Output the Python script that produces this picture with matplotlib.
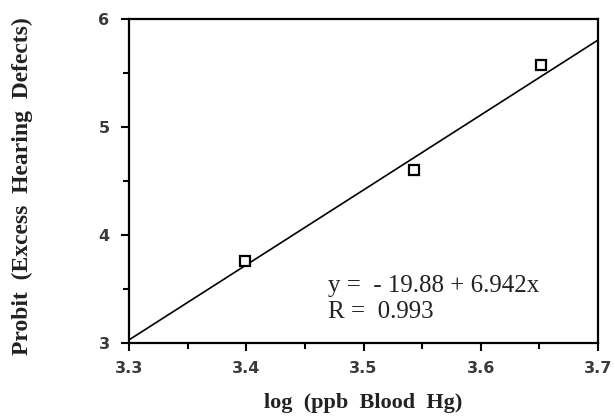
import matplotlib
matplotlib.use("Agg")
import matplotlib.pyplot as plt
import numpy as np
from matplotlib.ticker import MultipleLocator

# Measured data: log blood mercury vs probit of excess hearing defects
log_hg = [3.399, 3.543, 3.651]
probit = [3.76, 4.60, 5.57]

# Regression fit reported on the chart
intercept = -19.88
slope = 6.942
r_value = 0.993

x_ticks = [3.3, 3.4, 3.5, 3.6, 3.7]
y_ticks = [3, 4, 5, 6]

fig = plt.figure(figsize=(6.15, 4.17), dpi=100)
ax = fig.add_axes([0.2098, 0.1775, 0.7626, 0.7769])

xs = np.array([x_ticks[0], x_ticks[-1]])
ax.plot(xs, intercept + slope * xs, color="black", lw=1.2, zorder=2)
ax.plot(log_hg, probit, linestyle="none", marker="s", markersize=6.5,
        markerfacecolor="white", markeredgecolor="black", markeredgewidth=1.6, zorder=3)

ax.set_xlim(x_ticks[0], x_ticks[-1])
ax.set_ylim(y_ticks[0], y_ticks[-1])
ax.set_xticks(x_ticks)
ax.set_yticks(y_ticks)
ax.xaxis.set_minor_locator(MultipleLocator(0.05))
ax.yaxis.set_minor_locator(MultipleLocator(0.5))
ax.set_xticklabels([f"{v:.1f}" for v in x_ticks])
ax.set_yticklabels([str(v) for v in y_ticks])

for s in ax.spines.values():
    s.set_linewidth(1.6)
ax.tick_params(which="major", direction="out", length=6, width=1.5,
               labelsize=11.5, colors="black", labelcolor="#3a3a3a")
ax.tick_params(axis="x", which="major", pad=7)
ax.tick_params(axis="y", which="major", pad=8)
ax.tick_params(which="minor", direction="out", length=4, width=1.5)
for lbl in ax.get_xticklabels() + ax.get_yticklabels():
    lbl.set_fontfamily("DejaVu Sans")
    lbl.set_fontweight("bold")

ax.set_xlabel("log  (ppb  Blood  Hg)", fontfamily="Liberation Serif",
              fontweight="bold", fontsize=16, color="#222222")
ax.xaxis.set_label_coords(0.5, -0.155)
ax.set_ylabel("Probit  (Excess  Hearing  Defects)", fontfamily="Liberation Serif",
              fontweight="bold", fontsize=17, color="#222222")
ax.yaxis.set_label_coords(-0.205, 0.485)

eq_style = dict(fontfamily="Liberation Serif", fontsize=18, ha="left",
                va="baseline", color="#222222")
ax.text(3.4697, 3.472, f"y =  - {abs(intercept):.2f} + {slope:.3f}x", **eq_style)
ax.text(3.4697, 3.231, f"R =  {r_value:.3f}", **eq_style)

fig.savefig("out.png", dpi=100)
